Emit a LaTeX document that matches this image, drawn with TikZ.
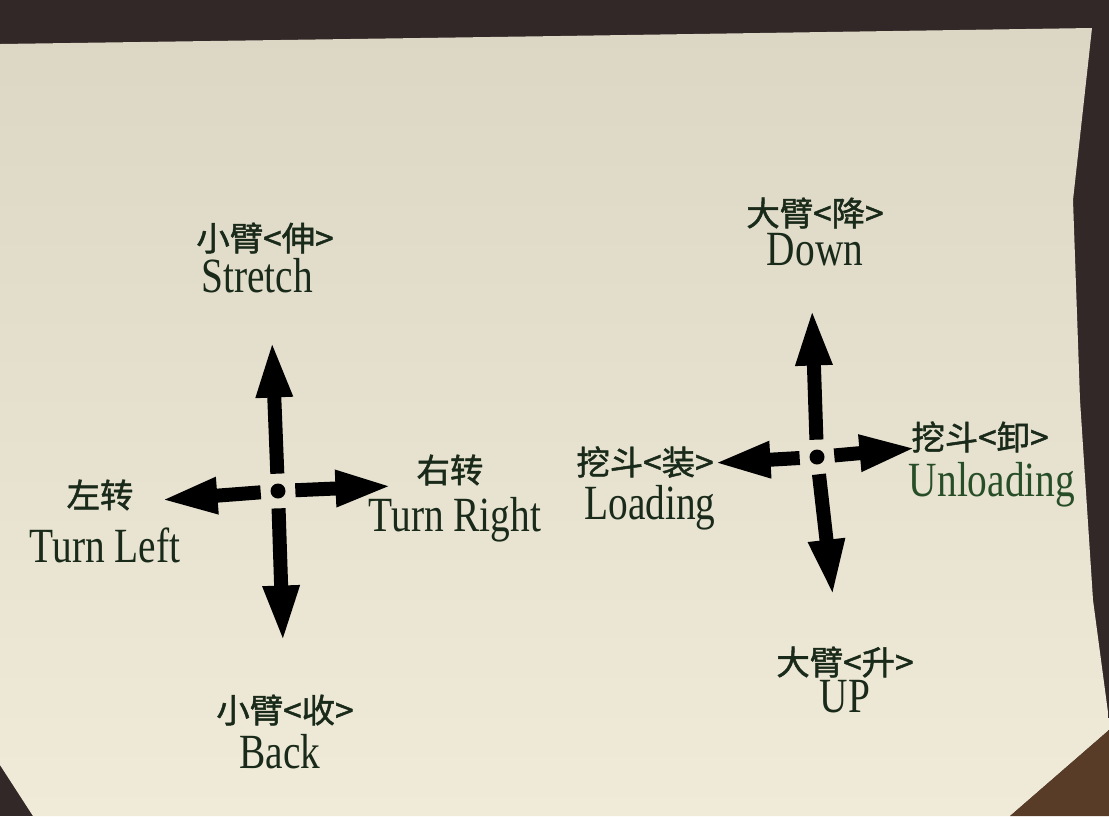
\documentclass[tikz,border=0pt]{standalone}
\usepackage{fontspec}
\setmainfont[FakeStretch=0.8]{Liberation Serif}
\newfontfamily\cjk[FakeBold=1.4]{Noto Sans CJK SC}
\usepackage{tikz}
\usetikzlibrary{arrows.meta}
\usetikzlibrary{positioning}
\definecolor{ink}{RGB}{26,42,26}
\definecolor{inkgreen}{RGB}{40,78,40}
\definecolor{paper}{RGB}{240,235,216}
\definecolor{shadow}{RGB}{220,215,197}
\definecolor{backdrop}{RGB}{50,40,40}
\definecolor{stain}{RGB}{88,60,40}
\tikzstyle{every node}+=[inner sep=0pt]
\tikzstyle{hub} = [circle, minimum size=0.68cm, path picture={\fill[black] (path picture bounding box.center) circle (0.15cm);}]
\tikzstyle{arrow} = [draw, black, line width=0.28cm, -{Triangle[length=1.15cm, width=0.66cm]}]
\tikzstyle{zh} = [font=\cjk\fontsize{19}{19}\selectfont, text=ink]
\tikzstyle{en} = [font=\fontsize{28}{28}\selectfont, text=ink]

\begin{document}
\begin{tikzpicture}[x=0.02cm, y=-0.02cm]
            \useasboundingbox (0,0) rectangle (1109,816);
            % Backdrop and paper
            \fill[backdrop] (0,0) rectangle (1109,816);
            \shade[top color=shadow, bottom color=paper] (0,44) -- (560,36) -- (1092,28) -- (1073,200) -- (1080,400)
              -- (1093,600) -- (1109,720) -- (1109,730) -- (1010,816) -- (33,816) -- (0,765) -- cycle;
            \fill[stain] (1109,730) -- (1109,816) -- (1010,816) -- cycle;
            % Place nodes
            \node [hub] (c1) at (278,491) {};
            \node [hub] (c2) at (817,457) {};
            \coordinate (up1) at (272,340);
            \coordinate (dn1) at (283,643);
            \coordinate (lt1) at (160,500);
            \coordinate (rt1) at (393,486);
            \coordinate (up2) at (812,308);
            \coordinate (dn2) at (833,597);
            \coordinate (lt2) at (713,463);
            \coordinate (rt2) at (917,448);
            \node [zh] (stretchzh) at (265,238) {小臂<伸>};
            \node [en, below of=stretchzh, node distance=0.76cm, xshift=-0.16cm] (stretch) {Stretch};
            \node [zh] (leftzh) at (100,495) {左转};
            \node [en, below of=leftzh, node distance=1cm, xshift=0.1cm] (left) {Turn Left};
            \node [zh] (rightzh) at (450,470) {右转};
            \node [en, below of=rightzh, node distance=1cm, xshift=0.1cm] (right) {Turn Right};
            \node [zh] (backzh) at (285,710) {小臂<收>};
            \node [en, below of=backzh, node distance=0.84cm, xshift=-0.1cm] (back) {Back};
            \node [zh] (downzh) at (815,213) {大臂<降>};
            \node [en, below of=downzh, node distance=0.74cm] (down) {Down};
            \node [zh] (loadzh) at (645,462) {挖斗<装>};
            \node [en, below of=loadzh, node distance=0.92cm, xshift=0.1cm] (load) {Loading};
            \node [zh] (unloadzh) at (980,437) {挖斗<卸>};
            \node [en, text=inkgreen, below of=unloadzh, node distance=0.96cm, xshift=0.24cm] (unload) {Unloading};
            \node [zh] (upzh) at (845,662) {大臂<升>};
            \node [en, below of=upzh, node distance=0.7cm] (upen) {UP};
            % Draw edges
            \path [arrow] (c1) -- (up1);
            \path [arrow] (c1) -- (dn1);
            \path [arrow] (c1) -- (lt1);
            \path [arrow] (c1) -- (rt1);
            \path [arrow] (c2) -- (up2);
            \path [arrow] (c2) -- (dn2);
            \path [arrow] (c2) -- (lt2);
            \path [arrow] (c2) -- (rt2);
          \end{tikzpicture}
\end{document}
